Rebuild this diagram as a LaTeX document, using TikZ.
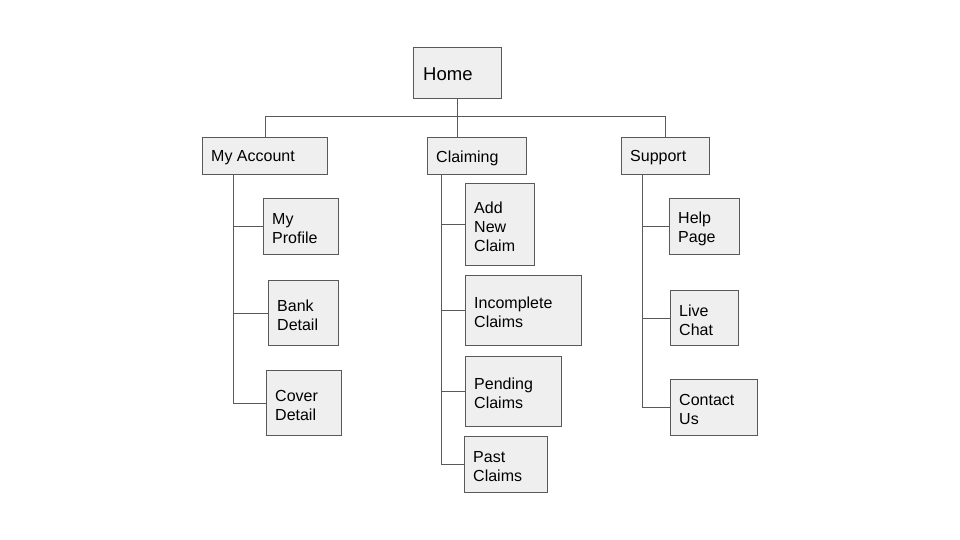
\documentclass[tikz,border=0pt]{standalone}
\usepackage{fontspec}
\setmainfont{Liberation Sans}
\definecolor{boxfill}{HTML}{EFEFEF}
\definecolor{edge}{HTML}{595959}
\tikzset{
  box/.style={draw=edge, fill=boxfill, line width=1pt, anchor=north west, inner sep=0pt},
  txt/.style={anchor=west, inner sep=0pt, align=left, font=\fontsize{16}{19}\selectfont},
  link/.style={draw=edge, line width=1pt},
}
% \bx{name}{x1}{y1}{x2}{y2}{text}
\newcommand{\bx}[6]{%
  \pgfmathsetmacro{\bw}{#4-#2}%
  \pgfmathsetmacro{\bh}{#5-#3}%
  \node[box, minimum width=\bw pt, minimum height=\bh pt] (#1) at (#2pt,-#3pt) {};
  \node[txt] (#1-t) at ([xshift=9pt,yshift=-2pt]#1.west) {#6};}
\begin{document}
\begin{tikzpicture}[x=1pt,y=1pt]
\useasboundingbox (0,0) rectangle (960,-540);
\fill[white] (0,0) rectangle (960,-540);
% top level
\node[box, minimum width=88pt, minimum height=51pt] (home) at (413,-47) {};
\node[txt, font=\fontsize{18.5}{22}\selectfont] (home-t) at ([xshift=10pt,yshift=-1.5pt]home.west) {Home};
\bx{myacc}{202}{137}{327}{174}{My Account}
\bx{claim}{427}{137}{526}{174}{Claiming}
\bx{supp}{621}{137}{709}{174}{Support}
% My Account children
\bx{profile}{263}{198}{338}{254}{My\\Profile}
\bx{bank}{268}{280}{338}{345}{Bank\\Detail}
\bx{cover}{266}{370}{341}{435}{Cover\\Detail}
% Claiming children
\bx{addnew}{465}{183}{534}{265}{Add\\New\\Claim}
\bx{incomp}{465}{275}{581}{345}{Incomplete\\Claims}
\bx{pending}{465}{356}{561}{426}{Pending\\Claims}
\bx{past}{464}{436}{547}{492}{Past\\Claims}
% Support children
\bx{help}{669}{198}{739}{254}{Help\\Page}
\bx{live}{670}{290}{738}{345}{Live\\Chat}
\bx{contact}{670}{379}{757}{435}{Contact\\Us}
% top connectors
\coordinate (bar) at (0,-117);
\draw[link] (home.south) -- (home.south |- claim.north);
\draw[link] (myacc.north) -- (myacc.north |- bar) -- (supp.north |- bar) -- (supp.north);
% My Account branch
\coordinate (av) at ([xshift=31pt]myacc.south west);
\draw[link] (av) -- (av |- cover.west);
\foreach \c in {profile,bank,cover} \draw[link] (av |- \c.west) -- (\c.west);
% Claiming branch
\coordinate (cv) at ([xshift=14pt]claim.south west);
\draw[link] (cv) -- (cv |- past.west);
\foreach \c in {addnew,incomp,pending,past} \draw[link] (cv |- \c.west) -- (\c.west);
% Support branch
\coordinate (sv) at ([xshift=21pt]supp.south west);
\draw[link] (sv) -- (sv |- contact.west);
\foreach \c in {help,live,contact} \draw[link] (sv |- \c.west) -- (\c.west);
\end{tikzpicture}
\end{document}
